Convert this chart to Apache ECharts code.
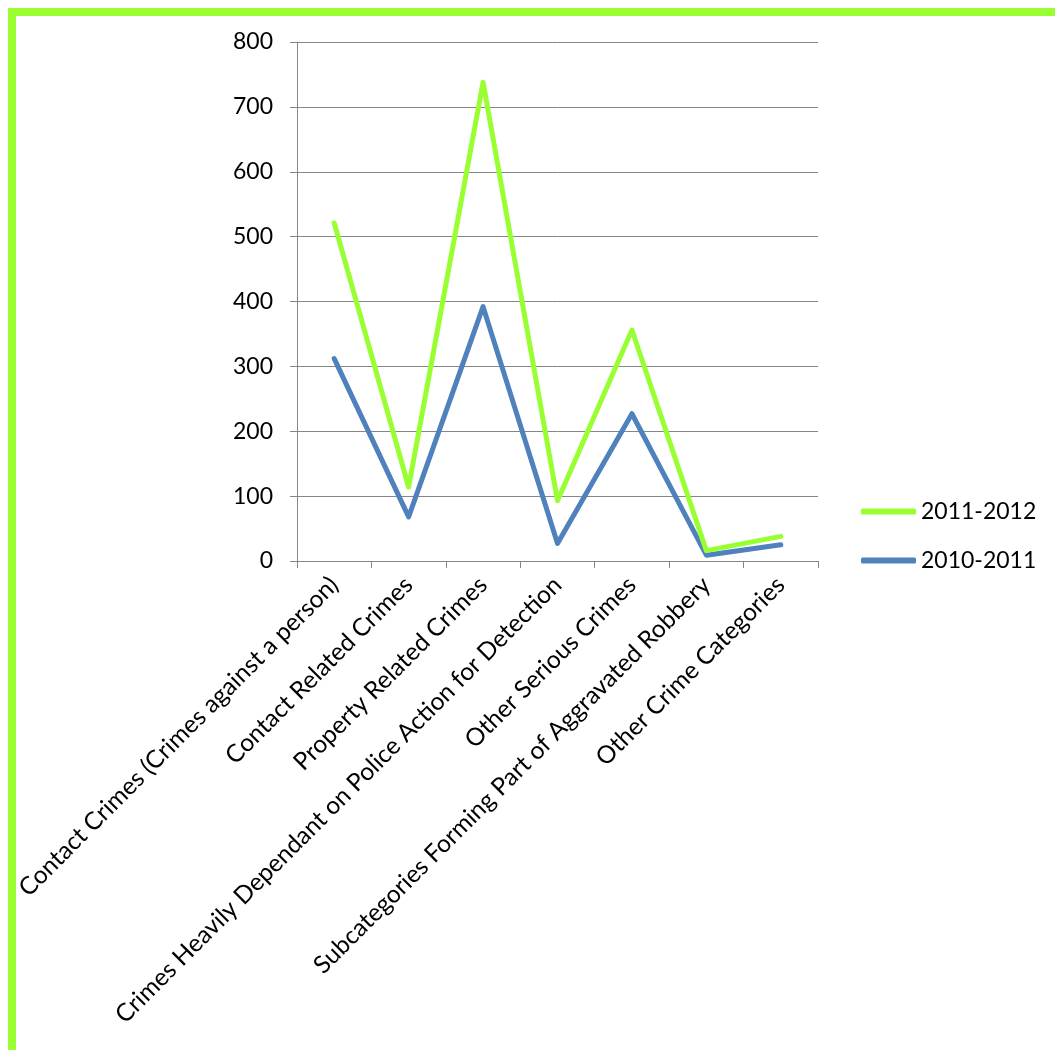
<!DOCTYPE html>
<html><head><meta charset="utf-8">
<script src="https://cdn.jsdelivr.net/npm/echarts@6/dist/echarts.min.js"></script>
<style>html,body{margin:0;padding:0;background:#fff}#c{width:1055px;height:1050px}</style>
</head><body><div id="c"></div>
<script>
var categories = ["Contact Crimes (Crimes against a person)","Contact Related Crimes","Property Related Crimes","Crimes Heavily Dependant on Police Action for Detection","Other Serious Crimes","Subcategories Forming Part of Aggravated Robbery","Other Crime Categories"];
var s2011_2012 = [521, 114, 738, 93, 356, 16, 38];
var s2010_2011 = [312, 68, 392, 27, 227, 9, 25];
var yTicks = [0,100,200,300,400,500,600,700,800];

var chart = echarts.init(document.getElementById('c'), null, {renderer:'canvas'});
var font = 'Lato, "Open Sans", sans-serif';
chart.setOption({
  animation:false,
  backgroundColor:'#fff',
  graphic:[
    {type:'rect', shape:{x:8,y:8,width:1047,height:8}, style:{fill:'#99FF33'}},
    {type:'rect', shape:{x:8,y:8,width:8,height:1042}, style:{fill:'#99FF33'}}
  ],
  grid:{left:297, top:42, width:521, height:519, containLabel:false},
  legend:{
    orient:'vertical', left:856, top:495, itemGap:26,
    itemWidth:55, itemHeight:6, icon:'roundRect',
    textStyle:{fontFamily:font, fontSize:23, color:'#000'},
    data:['2011-2012','2010-2011']
  },
  xAxis:{
    type:'category', data:categories, boundaryGap:true,
    axisLine:{lineStyle:{color:'#868686', width:1}},
    axisTick:{show:true, length:7, lineStyle:{color:'#868686'}, alignWithLabel:false},
    axisLabel:{rotate:45, interval:0, margin:20, fontFamily:font, fontSize:24.5, color:'#000'}
  },
  yAxis:{
    type:'value', min:0, max:800, interval:100,
    axisLine:{show:true, lineStyle:{color:'#868686'}},
    axisTick:{show:true, length:7, lineStyle:{color:'#868686'}},
    splitLine:{lineStyle:{color:'#868686', width:1}},
    axisLabel:{margin:24, fontFamily:font, fontSize:23, color:'#000'}
  },
  series:[
    {name:'2011-2012', type:'line', data:s2011_2012, symbol:'none', z:3,
     lineStyle:{color:'#99FF33', width:5, cap:'round', join:'round'}, itemStyle:{color:'#99FF33'}},
    {name:'2010-2011', type:'line', data:s2010_2011, symbol:'none', z:2,
     lineStyle:{color:'#4F81BD', width:5, cap:'round', join:'round'}, itemStyle:{color:'#4F81BD'}}
  ]
});
</script></body></html>
